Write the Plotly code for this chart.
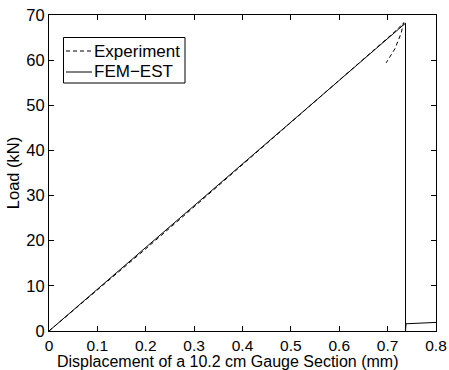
import plotly.graph_objects as go

exp_x = [0, 0.1, 0.2, 0.3, 0.4, 0.5, 0.6, 0.7, 0.72, 0.733, 0.728, 0.715, 0.697]
exp_y = [0, 9.0, 18.2, 27.5, 36.8, 46.2, 55.6, 64.9, 66.8, 68.3, 66.0, 62.5, 59.4]

fem_x = [0, 0.737, 0.737, 0.738, 0.8]
fem_y = [0, 68.2, 0.0, 1.6, 1.9]

series_names = ["Experiment", "FEM\u2212EST"]

fig = go.Figure()
fig.add_trace(go.Scatter(x=exp_x, y=exp_y, mode="lines", name=series_names[0],
                         line=dict(color="black", width=1, dash="4px,3px")))
fig.add_trace(go.Scatter(x=fem_x, y=fem_y, mode="lines", name=series_names[1],
                         line=dict(color="black", width=1)))

FS = 16.5
axis_common = dict(showline=True, linecolor="black", linewidth=1, mirror="ticks",
                   ticks="inside", ticklen=5, tickcolor="black", showgrid=False,
                   zeroline=False, automargin=False)

fig.update_xaxes(range=[0, 0.8], tickvals=[0, 0.1, 0.2, 0.3, 0.4, 0.5, 0.6, 0.7, 0.8],
                 ticktext=["0", "0.1", "0.2", "0.3", "0.4", "0.5", "0.6", "0.7", "0.8"],
                 ticklabelstandoff=0, tickfont=dict(size=15.5, color="black"),
                 **axis_common)
fig.update_yaxes(range=[0, 70], dtick=10, tickfont=dict(size=FS, color="black"),
                 title=dict(text="Load (kN)", font=dict(size=FS, color="black"), standoff=2),
                 **axis_common)

fig.add_annotation(text="Displacement of a 10.2 cm Gauge Section (mm)",
                   xref="paper", yref="paper", x=(227 - 49) / 387, y=-(371 - 331) / 316,
                   xanchor="center", yanchor="bottom", showarrow=False, borderpad=0,
                   font=dict(size=16, color="black"))

# legend box drawn in paper coordinates
def px(xp):
    return (xp - 49) / 387

def py(yp):
    return (331 - yp) / 316

fig.add_shape(type="rect", xref="paper", yref="paper",
              x0=px(63.5), x1=px(185), y0=py(83), y1=py(37.5),
              line=dict(color="black", width=1), fillcolor="white", layer="above")
legend_rows = [(51, "4px,3px"), (72, "solid")]
for (row_y, dash), name in zip(legend_rows, series_names):
    fig.add_shape(type="line", xref="paper", yref="paper",
                  x0=px(66), x1=px(92), y0=py(row_y), y1=py(row_y),
                  line=dict(color="black", width=1, dash=dash), layer="above")
    fig.add_annotation(text=name, xref="paper", yref="paper", x=px(93), y=py(row_y),
                       xanchor="left", yanchor="middle", showarrow=False, borderpad=0,
                       font=dict(size=17, color="black"))

fig.update_layout(
    width=449, height=370,
    margin=dict(l=49, r=13, t=15, b=39),
    paper_bgcolor="white", plot_bgcolor="white",
    font=dict(family="Liberation Sans, Arial, sans-serif", size=FS, color="black"),
    showlegend=False,
)

fig.write_html("out.html")
